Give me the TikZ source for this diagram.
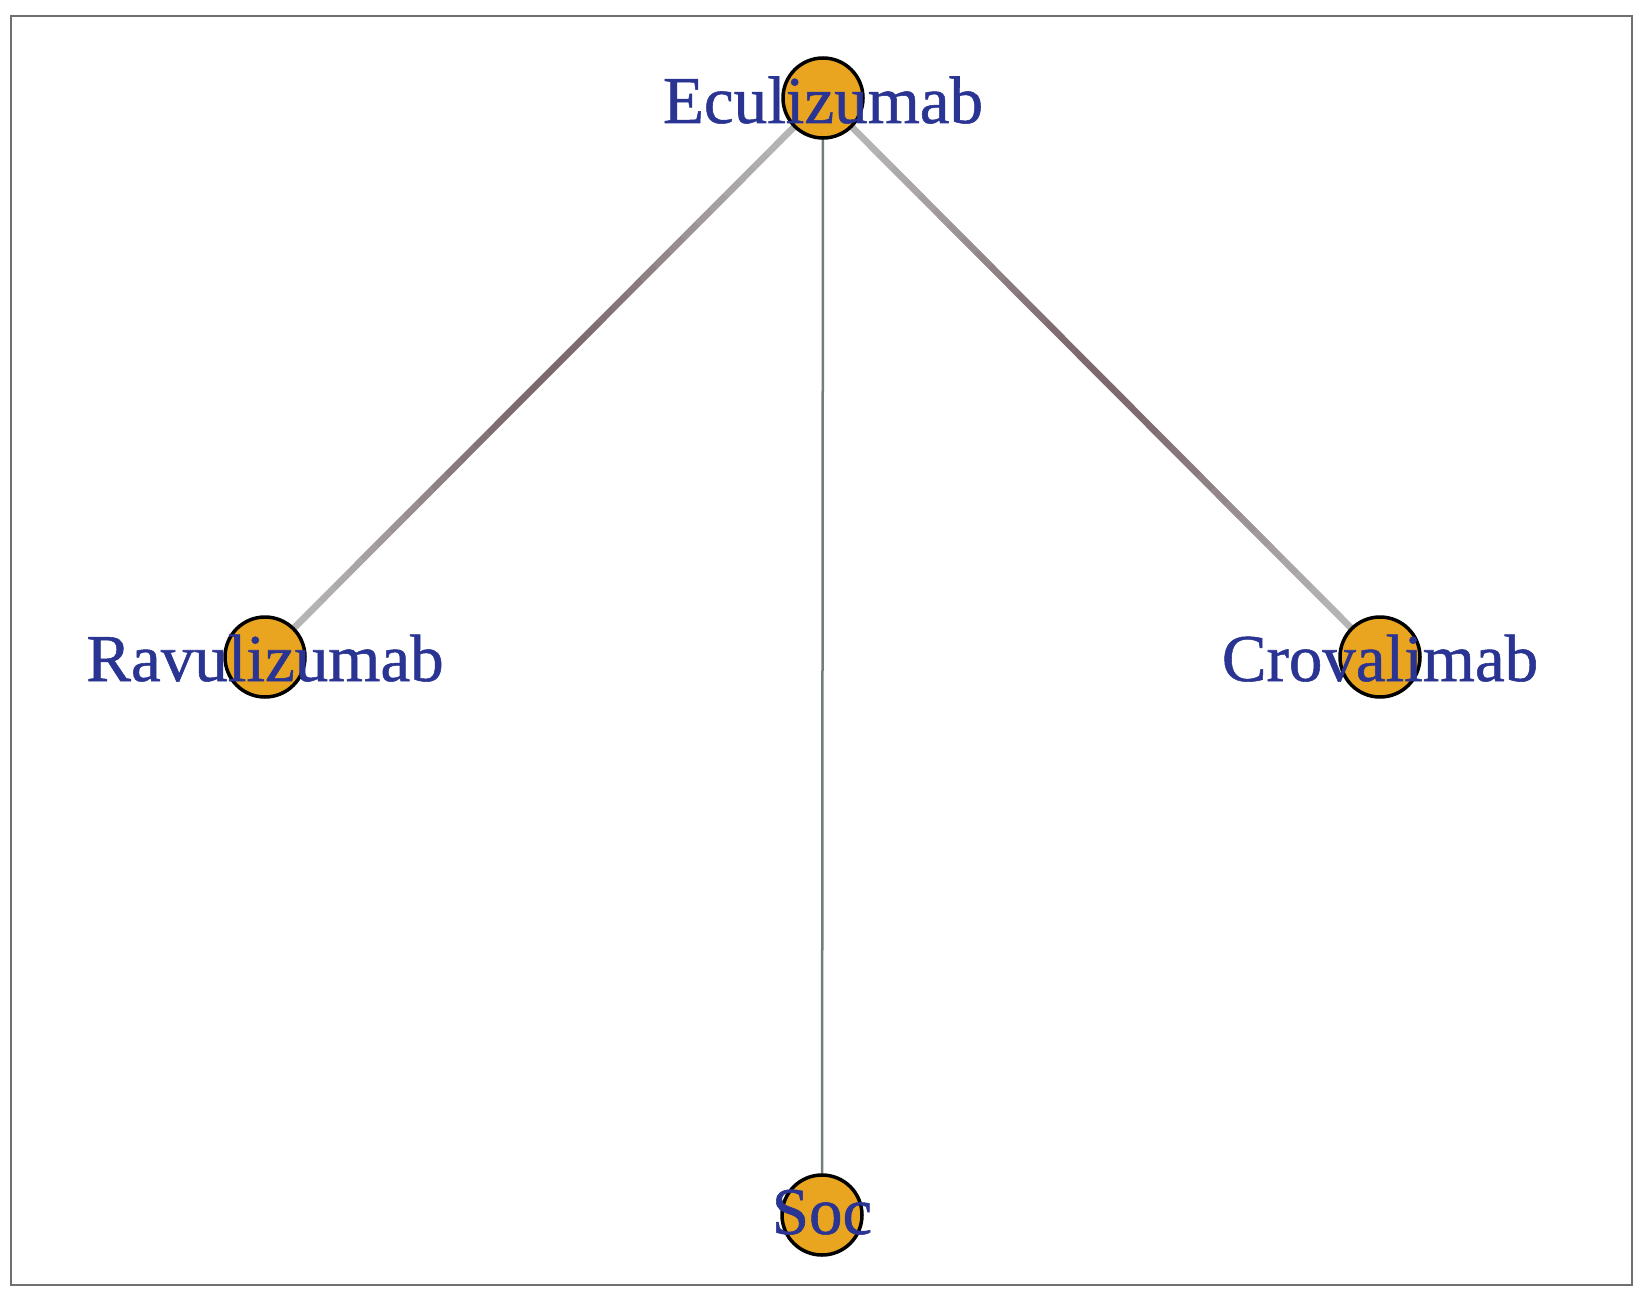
\documentclass[tikz,border=0pt]{standalone}
\usepackage{fontspec}
\setmainfont{Liberation Serif}[FakeBold=0.8]
\usetikzlibrary{calc,backgrounds}
\definecolor{nodefill}{RGB}{233,165,32}
\definecolor{labelblue}{RGB}{42,52,146}
\definecolor{edgelight}{RGB}{184,184,184}
\definecolor{edgedark}{RGB}{118,96,102}
\definecolor{vedgecol}{RGB}{112,126,126}
\definecolor{framegray}{RGB}{112,112,112}
\tikzset{
  drug/.style={circle, draw=black, line width=3.5pt, fill=nodefill, minimum size=80pt, inner sep=0pt},
  lbl/.style={text=labelblue, font=\fontsize{67}{80}\selectfont, anchor=base, inner sep=0pt},
  frameline/.style={draw=framegray, line width=2pt},
  thickedge/.style={line width=6.5pt, line cap=butt},
  thinedge/.style={draw=vedgecol, line width=2.5pt}
}
\newcommand{\gradedge}[2]{%
  \draw[thickedge, draw=edgelight] (#1) -- (#2);
  \foreach \i in {0,...,39}{%
    \pgfmathsetmacro\s{sin(180*(\i+0.5)/40)}%
    \pgfmathsetmacro\w{int(92*\s*\s)}%
    \pgfmathsetmacro\ta{\i/40}%
    \pgfmathsetmacro\tb{(\i+1)/40}%
    \draw[thickedge, draw=edgedark!\w!edgelight]
      ($(#1)!\ta!(#2)$) -- ($(#1)!\tb!(#2)$);
  }%
}
\begin{document}
\begin{tikzpicture}[x=1pt,y=-1pt]
\useasboundingbox (0,0) rectangle (1645,1300);
\node[drug] (ecu) at (823,98) {};
\node[drug] (rav) at (265,657) {};
\node[drug] (cro) at (1380,657) {};
\node[drug] (soc) at (822,1215) {};
\begin{scope}[on background layer]
  \fill[white] (0,0) rectangle (1645,1300);
  \draw[frameline] (10.7,16) rectangle (1632,1285);
  \gradedge{ecu.center}{rav.center}
  \gradedge{ecu.center}{cro.center}
  \draw[thinedge] (ecu.center) -- (soc.center);
\end{scope}
\node[lbl] (ecuL) at ([yshift=-25pt]ecu.center) {Eculizumab};
\node[lbl] (ravL) at ([yshift=-24pt]rav.center) {Ravulizumab};
\node[lbl] (croL) at ([yshift=-24pt]cro.center) {Crovalimab};
\node[lbl] (socL) at ([yshift=-19pt]soc.center) {Soc};
\end{tikzpicture}
\end{document}
